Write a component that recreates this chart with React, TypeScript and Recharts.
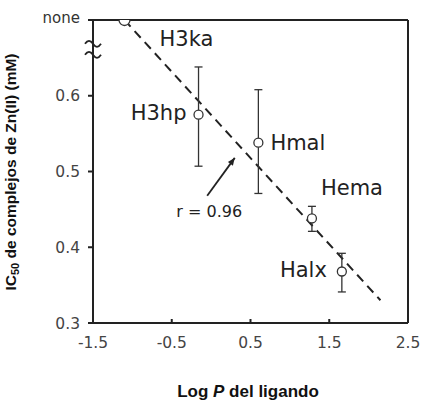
import React from "react";
import {
  ComposedChart,
  Scatter,
  Line,
  XAxis,
  YAxis,
  ErrorBar,
  ReferenceLine,
  ReferenceDot,
  LabelList,
} from "recharts";

// ligand data
const ligands = ["H3ka", "H3hp", "Hmal", "Hema", "Halx"];
const logP = [-1.1, -0.16, 0.6, 1.28, 1.66];
const ic50 = [0.7, 0.575, 0.538, 0.438, 0.368];
const errLow = [null, 0.068, 0.067, 0.017, 0.027];
const errHigh = [null, 0.063, 0.07, 0.016, 0.024];

// regression line ends
const fitLogP = [-1.1, 2.15];
const fitIC50 = [0.7, 0.33];

const xTicks = [-1.5, -0.5, 0.5, 1.5, 2.5];
const yTicks = [0.3, 0.4, 0.5, 0.6, 0.7];
const noneValue = 0.7;

// arrow pointing at the fit line, with the r value
const arrowFrom = { x: -0.05, y: 0.468 };
const arrowTo = { x: 0.3, y: 0.518 };
const rLabel = "r = 0.96";

const points = ligands.map((name, i) => ({
  name,
  x: logP[i],
  y: ic50[i],
  err: errLow[i] == null ? null : [errLow[i], errHigh[i]],
}));
const measured = points.filter((p) => p.err != null);
const noneRows = points.filter((p) => p.err == null);
const fitData = fitLogP.map((x, i) => ({ x, y: fitIC50[i] }));

const FONT = "'DejaVu Sans', sans-serif";
const TITLE_FONT = "'Liberation Sans', Arial, sans-serif";
const INK = "#222";

// label placement relative to each point
const labelPos: Record<string, { dx: number; dy: number; anchor: string }> = {
  H3ka: { dx: 35, dy: 26, anchor: "start" },
  H3hp: { dx: -12, dy: 5, anchor: "end" },
  Hmal: { dx: 12, dy: 7, anchor: "start" },
  Hema: { dx: 9, dy: -23, anchor: "start" },
  Halx: { dx: -15, dy: 6, anchor: "end" },
};

const PointLabel = (props: any) => {
  const { x, y, width, height, value } = props;
  const p = labelPos[value];
  if (!p) return null;
  const cx = x + (width || 0) / 2;
  const cy = y + (height || 0) / 2;
  return (
    <text x={cx + p.dx} y={cy + p.dy} textAnchor={p.anchor as any} fontFamily={FONT} fontSize={21} fill={INK}>
      {value}
    </text>
  );
};

const OpenCircle = (props: any) => {
  const { cx, cy, payload } = props;
  const r = payload && payload.err == null ? 5.5 : 4.5;
  return <circle cx={cx} cy={cy} r={r} fill="#fff" stroke="#333" strokeWidth={1.3} />;
};

const XTick = (props: any) => {
  const { x, y, payload } = props;
  return (
    <g>
      <line x1={x} y1={y} x2={x} y2={y - 4} stroke={INK} strokeWidth={2} />
      <text x={x} y={y + 25} textAnchor="middle" fontFamily={FONT} fontSize={15.5} fill="#444">
        {payload.value}
      </text>
    </g>
  );
};

const YTick = (props: any) => {
  const { x, y, payload } = props;
  const isNone = payload.value === noneValue;
  return (
    <text
      x={x}
      y={y}
      dy={isNone ? 3 : 5.5}
      textAnchor="end"
      fontFamily={FONT}
      fontSize={isNone ? 15 : 15.5}
      fill={isNone ? "#333" : "#444"}
    >
      {isNone ? "none" : payload.value.toFixed(1)}
    </text>
  );
};

const AxisBreak = (props: any) => {
  const { cx, cy } = props;
  const wave = (yy: number) => `M${cx - 8},${yy} q4,-6 8,0 t8,0`;
  return (
    <g fill="none" stroke={INK} strokeWidth={1.8}>
      <path d={wave(cy - 5)} />
      <path d={wave(cy + 6)} />
    </g>
  );
};

const Arrow = (props: any) => {
  const { x1, y1, x2, y2 } = props;
  const ang = Math.atan2(y2 - y1, x2 - x1);
  const len = 8;
  const a1 = ang + Math.PI - 0.4;
  const a2 = ang + Math.PI + 0.4;
  return (
    <g>
      <line x1={x1} y1={y1} x2={x2} y2={y2} stroke={INK} strokeWidth={1.8} />
      <polygon
        points={`${x2},${y2} ${x2 + len * Math.cos(a1)},${y2 + len * Math.sin(a1)} ${x2 + len * Math.cos(a2)},${y2 + len * Math.sin(a2)}`}
        fill={INK}
      />
      <text x={x1 + 2} y={y1 + 21} textAnchor="middle" fontFamily={FONT} fontSize={16} fill={INK}>
        {rLabel}
      </text>
    </g>
  );
};

const YTitle = (props: any) => {
  const cx = 16;
  const cy = 172;
  return (
    <text
      x={cx}
      y={cy}
      transform={`rotate(-90 ${cx} ${cy})`}
      textAnchor="middle"
      fontFamily={TITLE_FONT}
      fontSize={15.5}
      fontWeight="bold"
      fill="#111"
    >
      IC<tspan fontSize={11} dy={3}>50</tspan>
      <tspan dy={-3}> de complejos de Zn(II) (mM)</tspan>
    </text>
  );
};

const XTitle = (props: any) => (
  <text x={248} y={397} textAnchor="middle" fontFamily={TITLE_FONT} fontSize={17} fontWeight="bold" fill="#111">
    Log <tspan fontStyle="italic">P</tspan> del ligando
  </text>
);

export default function App() {
  return (
    <div style={{ position: "absolute", left: 0, top: 0, width: 421, height: 400, background: "#fff" }}>
      <ComposedChart width={421} height={400} margin={{ top: 20, right: 13, left: 0, bottom: 0 }}>
        <XAxis
          dataKey="x"
          type="number"
          domain={[-1.5, 2.5]}
          ticks={xTicks}
          height={77}
          tickSize={0}
          tickMargin={0}
          tick={<XTick />}
          axisLine={{ stroke: INK, strokeWidth: 2 }}
          tickLine={false}
          label={<XTitle />}
          allowDataOverflow
        />
        <YAxis
          type="number"
          domain={[0.3, 0.7]}
          ticks={yTicks}
          width={93}
          tickSize={5}
          tickMargin={8}
          tick={<YTick />}
          axisLine={{ stroke: INK, strokeWidth: 2 }}
          tickLine={{ stroke: INK, strokeWidth: 2 }}
          label={<YTitle />}
          allowDataOverflow
        />
        <ReferenceLine y={0.7} stroke={INK} strokeWidth={2} />
        <ReferenceLine x={2.5} stroke={INK} strokeWidth={2} />
        <ReferenceDot x={-1.5} y={0.662} ifOverflow="visible" shape={<AxisBreak />} />
        <Line
          data={fitData}
          dataKey="y"
          type="linear"
          stroke={INK}
          strokeWidth={2}
          strokeDasharray="9 6"
          dot={false}
          activeDot={false}
          isAnimationActive={false}
        />
        <ReferenceLine
          segment={[arrowFrom, arrowTo]}
          ifOverflow="visible"
          shape={<Arrow />}
        />
        <Scatter data={measured} dataKey="y" shape={<OpenCircle />} isAnimationActive={false}>
          <ErrorBar dataKey="err" direction="y" width={4} stroke="#333" strokeWidth={1.3} isAnimationActive={false} />
          <LabelList dataKey="name" content={<PointLabel />} />
        </Scatter>
        <Scatter data={noneRows} dataKey="y" shape={<OpenCircle />} isAnimationActive={false}>
          <LabelList dataKey="name" content={<PointLabel />} />
        </Scatter>
      </ComposedChart>
    </div>
  );
}
